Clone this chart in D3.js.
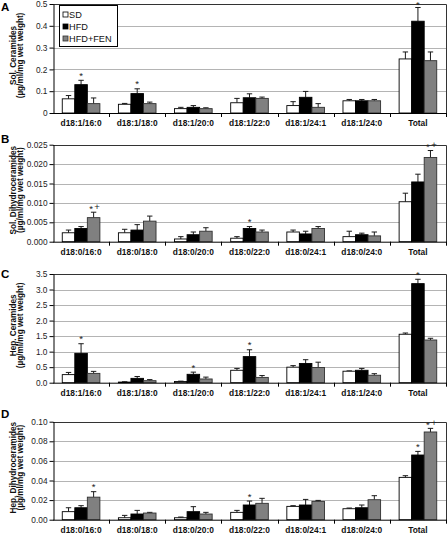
<!DOCTYPE html>
<html><head><meta charset="utf-8">
<script src="https://cdn.jsdelivr.net/npm/d3@7"></script>
<style>
body{margin:0;background:#fff;}
svg{display:block;font-family:"Liberation Sans",Arial,sans-serif;}
</style></head>
<body>
<svg id="chart" width="448" height="534"></svg>
<script>
// ---------- data ----------
const seriesNames = ["SD", "HFD", "HFD+FEN"];
const catsCer = ["d18:1/16:0","d18:1/18:0","d18:1/20:0","d18:1/22:0","d18:1/24:1","d18:1/24:0","Total"];
const catsDH  = ["d18:0/16:0","d18:0/18:0","d18:0/20:0","d18:0/22:0","d18:0/24:1","d18:0/24:0","Total"];

// Panel A: Sol. Ceramides
const solCerSD     = [0.065,0.040,0.020,0.047,0.034,0.056,0.248];
const solCerSDErr  = [0.015,0.004,0.006,0.020,0.018,0.006,0.032];
const solCerHFD    = [0.130,0.089,0.026,0.070,0.072,0.056,0.421];
const solCerHFDErr = [0.020,0.022,0.008,0.018,0.027,0.006,0.063];
const solCerFEN    = [0.043,0.043,0.020,0.067,0.026,0.056,0.240];
const solCerFENErr = [0.026,0.007,0.004,0.006,0.017,0.006,0.040];
const solCerTicks  = [0,0.1,0.2,0.3,0.4,0.5];
const solCerTickLabels = ["0","0.1","0.2","0.3","0.4","0.5"];
const solCerStars  = [{cat:0,s:1,m:"*"},{cat:1,s:1,m:"*"},{cat:6,s:1,m:"*"}];

// Panel B: Sol. Dihydroceramides
const solDHSD     = [0.0023,0.0023,0.0007,0.0009,0.0025,0.0013,0.0103];
const solDHSDErr  = [0.0007,0.0009,0.0006,0.0004,0.0005,0.0014,0.0022];
const solDHHFD    = [0.0034,0.0030,0.0018,0.0034,0.0020,0.0018,0.0154];
const solDHHFDErr = [0.0005,0.0014,0.0007,0.0005,0.0007,0.0004,0.0020];
const solDHFEN    = [0.0062,0.0053,0.0027,0.0025,0.0034,0.0015,0.0217];
const solDHFENErr = [0.0014,0.0013,0.0009,0.0005,0.0005,0.0010,0.0018];
const solDHTicks  = [0,0.005,0.010,0.015,0.020,0.025];
const solDHTickLabels = ["0.000","0.005","0.010","0.015","0.020","0.025"];
const solDHStars  = [{cat:0,s:2,m:"*+"},{cat:3,s:1,m:"*"},{cat:6,s:2,m:"*+"}];

// Panel C: Hep. Ceramides
const hepCerSD     = [0.26,0.02,0.04,0.40,0.50,0.37,1.56];
const hepCerSDErr  = [0.07,0.01,0.01,0.06,0.05,0.01,0.04];
const hepCerHFD    = [0.945,0.14,0.27,0.84,0.62,0.40,3.19];
const hepCerHFDErr = [0.31,0.06,0.07,0.22,0.12,0.06,0.14];
const hepCerFEN    = [0.30,0.065,0.12,0.17,0.49,0.24,1.375];
const hepCerFENErr = [0.065,0.035,0.06,0.06,0.17,0.05,0.055];
const hepCerTicks  = [0,0.5,1.0,1.5,2.0,2.5,3.0,3.5];
const hepCerTickLabels = ["0.0","0.5","1.0","1.5","2.0","2.5","3.0","3.5"];
const hepCerStars  = [{cat:0,s:1,m:"*"},{cat:2,s:1,m:"*"},{cat:3,s:1,m:"*"},{cat:6,s:1,m:"*"}];

// Panel D: Hep. Dihydroceramides
const hepDHSD     = [0.0082,0.0020,0.0020,0.0075,0.0136,0.0112,0.0432];
const hepDHSDErr  = [0.0040,0.0024,0.0007,0.0020,0.0007,0.0007,0.0017];
const hepDHHFD    = [0.0122,0.0058,0.0082,0.0150,0.0150,0.0122,0.0660];
const hepDHHFDErr = [0.0021,0.0037,0.0051,0.0040,0.0057,0.0028,0.0037];
const hepDHFEN    = [0.0230,0.0068,0.0058,0.0167,0.0187,0.0204,0.0895];
const hepDHFENErr = [0.0056,0.0007,0.0017,0.0051,0.0010,0.0041,0.0037];
const hepDHTicks  = [0,0.02,0.04,0.06,0.08,0.10];
const hepDHTickLabels = ["0.00","0.02","0.04","0.06","0.08","0.10"];
const hepDHStars  = [{cat:0,s:2,m:"*"},{cat:3,s:1,m:"*"},{cat:6,s:1,m:"*"},{cat:6,s:2,m:"*+"}];

const fills   = ["#ffffff", "#000000", "#808080"];
const strokes = ["#000000", "#000000", "#303030"];

// ---------- drawing ----------
const svg = d3.select("#chart");
const left = 53, right = 446;

const panels = [
  {letter:"A", letterY:11, top:4,     bottom:113,   cats:catsCer, title:["Sol. Ceramides","(µg/ml/mg wet weight)"],
   vals:[solCerSD,solCerHFD,solCerFEN], errs:[solCerSDErr,solCerHFDErr,solCerFENErr],
   ticks:solCerTicks, tickLabels:solCerTickLabels, stars:solCerStars, legend:true},
  {letter:"B", letterY:143, top:144.7, bottom:241.7, cats:catsDH, title:["Sol. Dihydroceramides","(µg/ml/mg wet weight)"],
   vals:[solDHSD,solDHHFD,solDHFEN], errs:[solDHSDErr,solDHHFDErr,solDHFENErr],
   ticks:solDHTicks, tickLabels:solDHTickLabels, stars:solDHStars},
  {letter:"C", letterY:278, top:274,   bottom:382.7, cats:catsCer, title:["Hep. Ceramides","(µg/ml/mg wet weight)"],
   vals:[hepCerSD,hepCerHFD,hepCerFEN], errs:[hepCerSDErr,hepCerHFDErr,hepCerFENErr],
   ticks:hepCerTicks, tickLabels:hepCerTickLabels, stars:hepCerStars},
  {letter:"D", letterY:418, top:421.7, bottom:519.7, cats:catsDH, title:["Hep. Dihydroceramides","(µg/ml/mg wet weight)"],
   vals:[hepDHSD,hepDHHFD,hepDHFEN], errs:[hepDHSDErr,hepDHHFDErr,hepDHFENErr],
   ticks:hepDHTicks, tickLabels:hepDHTickLabels, stars:hepDHStars}
];

panels.forEach(p => {
  const g = svg.append("g");
  const maxV = p.ticks[p.ticks.length-1];
  const y = d3.scaleLinear().domain([0, maxV]).range([p.bottom, p.top]);
  const x0 = d3.scaleBand().domain(p.cats).range([left, right]).padding(0);
  const bw = x0.bandwidth();
  const x1 = d3.scaleBand().domain(seriesNames).range([bw*0.165, bw*0.835]).padding(0);

  // gridlines
  g.append("g").selectAll("line").data(p.ticks.slice(1)).join("line")
    .attr("x1", left).attr("x2", right)
    .attr("y1", d => Math.round(y(d))+0.5).attr("y2", d => Math.round(y(d))+0.5)
    .attr("stroke", "#b4b4b4").attr("stroke-width", 1);

  // plot border (top & right)
  g.append("path")
    .attr("d", `M${left},${Math.round(p.top)+0.5}H${right+0.5}V${Math.round(p.bottom)}`)
    .attr("fill","none").attr("stroke","#333").attr("stroke-width",1);

  // y axis
  const yAxis = d3.axisLeft(y).tickValues(p.ticks)
    .tickFormat((d,i) => p.tickLabels[i]).tickSize(4).tickSizeOuter(0).tickPadding(2);
  const ya = g.append("g").attr("transform", `translate(${left+0.5},0)`).call(yAxis);
  ya.selectAll("text").attr("font-size", 8.3).attr("fill", "#222");
  ya.selectAll("line,path").attr("stroke", "#000");

  // bars
  const series = seriesNames.map((name, si) => p.cats.map((c, ci) => ({c, ci, si, name, v:p.vals[si][ci], e:p.errs[si][ci]})));
  const barG = g.append("g");
  series.forEach((arr, si) => {
    // error bars
    barG.append("g").selectAll("path").data(arr).join("path")
      .attr("d", d => {
        const cx = x0(d.c) + x1(d.name) + x1.bandwidth()/2;
        const yt = y(d.v + d.e), yb = y(d.v);
        return `M${cx},${yb}V${yt}M${cx-2.7},${yt}H${cx+2.7}`;
      })
      .attr("stroke", "#1a1a1a").attr("stroke-width", 1).attr("fill","none");
    barG.append("g").selectAll("rect").data(arr).join("rect")
      .attr("x", d => x0(d.c) + x1(d.name))
      .attr("y", d => y(d.v))
      .attr("width", x1.bandwidth())
      .attr("height", d => y(0) - y(d.v))
      .attr("fill", fills[si]).attr("stroke", strokes[si]).attr("stroke-width", 0.9);
  });

  // x axis
  const xa = g.append("g").attr("transform", `translate(0,${p.bottom})`);
  xa.append("line").attr("x1", left).attr("x2", right+0.5).attr("y1", 0.5).attr("y2", 0.5).attr("stroke", "#000");
  xa.selectAll("line.tk").data(p.cats.slice(1).concat(["__end"])).join("line").attr("class","tk")
    .attr("x1", d => d==="__end" ? right+0.5 : Math.round(x0(d))+0.5)
    .attr("x2", d => d==="__end" ? right+0.5 : Math.round(x0(d))+0.5)
    .attr("y1", 0).attr("y2", 4).attr("stroke", "#000");
  xa.selectAll("text").data(p.cats).join("text")
    .attr("x", d => x0(d) + bw/2).attr("y", 13)
    .attr("text-anchor", "middle").attr("font-size", 8.4).attr("font-weight", "bold").attr("fill", "#111")
    .text(d => d);

  // stars
  p.stars.forEach(st => {
    const cat = p.cats[st.cat];
    const cx = x0(cat) + x1(seriesNames[st.s]) + x1.bandwidth()/2;
    const yt = Math.max(y(p.vals[st.s][st.cat] + p.errs[st.s][st.cat]) - 2.5, 7);
    if (st.m === "*") {
      g.append("text").attr("x", cx).attr("y", yt + 1).attr("text-anchor","middle")
        .attr("font-size", 9.5).attr("fill","#222").text("*");
    } else {
      g.append("text").attr("x", cx - 2.5).attr("y", yt + 2).attr("text-anchor","middle")
        .attr("font-size", 9.5).attr("fill","#222").text("*");
      g.append("text").attr("x", cx + 3.5).attr("y", yt).attr("text-anchor","middle")
        .attr("font-size", 9.5).attr("fill","#222").text("+");
    }
  });

  // y title
  const cy = (p.top + p.bottom)/2 - 3;
  const tg = g.append("g").attr("transform", `translate(0,${cy}) rotate(-90)`);
  tg.append("text").attr("x", 0).attr("y", 15.5).attr("text-anchor","middle")
    .attr("font-size", 8.2).attr("font-weight","bold").attr("fill","#111").text(p.title[0]);
  tg.append("text").attr("x", 0).attr("y", 23).attr("text-anchor","middle")
    .attr("font-size", 8.2).attr("font-weight","bold").attr("fill","#111").text(p.title[1]);

  // panel letter
  g.append("text").attr("x", 1).attr("y", p.letterY).attr("font-size", 11.5)
    .attr("font-weight","bold").text(p.letter);

  // legend
  if (p.legend) {
    const lg = g.append("g").attr("transform", "translate(59,5)");
    lg.append("rect").attr("x",0.5).attr("y",0.5).attr("width",58).attr("height",41)
      .attr("fill","#fff").attr("stroke","#000").attr("stroke-width",1);
    seriesNames.forEach((nm, i) => {
      const ly = 10 + i*12;
      lg.append("rect").attr("x", 4).attr("y", ly-3).attr("width", 5).attr("height", 5)
        .attr("fill", fills[i]).attr("stroke", strokes[i]).attr("stroke-width", 0.8);
      lg.append("text").attr("x", 10).attr("y", ly + 3).attr("font-size", 9.2).attr("fill","#111").text(nm);
    });
  }
});
</script>
</body></html>
